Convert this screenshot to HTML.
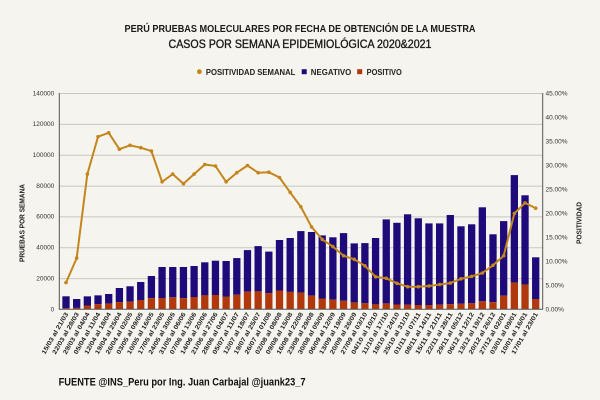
<!DOCTYPE html>
<html><head><meta charset="utf-8"><style>
html,body{margin:0;padding:0;background:#f5f4ee;}
svg{display:block;font-family:"Liberation Sans",sans-serif;}
.xl{font-size:6.3px;font-weight:bold;fill:#222;}
.yl{font-size:6.5px;fill:#333;}
</style></head><body>
<svg width="600" height="400" viewBox="0 0 600 400" xmlns="http://www.w3.org/2000/svg">
<rect width="600" height="400" fill="#f5f4ee"/>
<!-- titles -->
<text x="300" y="31.8" text-anchor="middle" font-size="10.5" font-weight="bold" fill="#1a1a1a" textLength="351" lengthAdjust="spacingAndGlyphs">PERÚ PRUEBAS MOLECULARES POR FECHA DE OBTENCIÓN DE LA MUESTRA</text>
<text x="300" y="48.2" text-anchor="middle" font-size="11.5" fill="#1a1a1a" stroke="#1a1a1a" stroke-width="0.35" textLength="263" lengthAdjust="spacingAndGlyphs">CASOS POR SEMANA EPIDEMIOLÓGICA 2020&amp;2021</text>
<!-- legend -->
<circle cx="199.4" cy="71.7" r="2.4" fill="#c4861c"/>
<text x="205.9" y="74.9" font-size="8.6" font-weight="bold" fill="#222" textLength="89.5" lengthAdjust="spacingAndGlyphs">POSITIVIDAD SEMANAL</text>
<rect x="301.7" y="69.2" width="5" height="5" fill="#1e0a78"/>
<text x="310.8" y="74.9" font-size="8.6" font-weight="bold" fill="#222" textLength="40.5" lengthAdjust="spacingAndGlyphs">NEGATIVO</text>
<rect x="357.2" y="69.2" width="5" height="5" fill="#b0380c"/>
<text x="366.6" y="74.9" font-size="8.6" font-weight="bold" fill="#222" textLength="35.2" lengthAdjust="spacingAndGlyphs">POSITIVO</text>
<!-- gridlines -->
<g stroke="#c8c8c2" stroke-width="1">
<line x1="59" y1="93.5" x2="543" y2="93.5"/>
<line x1="59" y1="124.4" x2="543" y2="124.4"/>
<line x1="59" y1="155.2" x2="543" y2="155.2"/>
<line x1="59" y1="186.1" x2="543" y2="186.1"/>
<line x1="59" y1="216.9" x2="543" y2="216.9"/>
<line x1="59" y1="247.8" x2="543" y2="247.8"/>
<line x1="59" y1="278.6" x2="543" y2="278.6"/>
</g>
<!-- left labels -->
<g class="yl" text-anchor="end">
<text x="54.3" y="95.3">140000</text>
<text x="54.3" y="126.2">120000</text>
<text x="54.3" y="157">100000</text>
<text x="54.3" y="187.9">80000</text>
<text x="54.3" y="218.7">60000</text>
<text x="54.3" y="249.6">40000</text>
<text x="54.3" y="280.4">20000</text>
<text x="54.3" y="311.3">0</text>
</g>
<!-- right labels -->
<g class="yl">
<text x="545.5" y="95.3">45.00%</text>
<text x="545.5" y="119.3">40.00%</text>
<text x="545.5" y="143.3">35.00%</text>
<text x="545.5" y="167.3">30.00%</text>
<text x="545.5" y="191.3">25.00%</text>
<text x="545.5" y="215.3">20.00%</text>
<text x="545.5" y="239.3">15.00%</text>
<text x="545.5" y="263.3">10.00%</text>
<text x="545.5" y="287.3">5.00%</text>
<text x="545.5" y="311.3">0.00%</text>
</g>
<!-- axis titles -->
<text transform="translate(24.7,223) rotate(-90)" text-anchor="middle" font-size="7.6" font-weight="bold" fill="#222" textLength="78" lengthAdjust="spacingAndGlyphs">PRUEBAS POR SEMANA</text>
<text transform="translate(581.7,223) rotate(-90)" text-anchor="middle" font-size="7.6" font-weight="bold" fill="#222" textLength="42" lengthAdjust="spacingAndGlyphs">POSITIVIDAD</text>
<!-- negative bars -->
<g fill="#1e0a78">
<rect x="62.35" y="296.3" width="7.3" height="12.0"/>
<rect x="73.03" y="299.0" width="7.3" height="8.9"/>
<rect x="83.70" y="296.35" width="7.3" height="9.15"/>
<rect x="94.38" y="295.35" width="7.3" height="8.85"/>
<rect x="105.05" y="294.0" width="7.3" height="9.6"/>
<rect x="115.73" y="288.0" width="7.3" height="14.1"/>
<rect x="126.40" y="286.3" width="7.3" height="15.3"/>
<rect x="137.08" y="282.0" width="7.3" height="18.0"/>
<rect x="147.75" y="276.0" width="7.3" height="22.2"/>
<rect x="158.43" y="267.0" width="7.3" height="31.0"/>
<rect x="169.10" y="267.0" width="7.3" height="30.3"/>
<rect x="179.78" y="267.0" width="7.3" height="31.2"/>
<rect x="190.45" y="266.0" width="7.3" height="31.0"/>
<rect x="201.13" y="262.3" width="7.3" height="33.1"/>
<rect x="211.80" y="260.7" width="7.3" height="34.3"/>
<rect x="222.48" y="261.0" width="7.3" height="35.5"/>
<rect x="233.15" y="258.1" width="7.3" height="36.7"/>
<rect x="243.83" y="250.1" width="7.3" height="41.6"/>
<rect x="254.50" y="246.1" width="7.3" height="45.3"/>
<rect x="265.18" y="251.6" width="7.3" height="41.5"/>
<rect x="275.85" y="240.0" width="7.3" height="50.5"/>
<rect x="286.53" y="238.0" width="7.3" height="53.9"/>
<rect x="297.20" y="231.1" width="7.3" height="61.5"/>
<rect x="307.88" y="232.0" width="7.3" height="63.7"/>
<rect x="318.55" y="235.4" width="7.3" height="63.1"/>
<rect x="329.23" y="237.3" width="7.3" height="62.4"/>
<rect x="339.90" y="233.1" width="7.3" height="67.7"/>
<rect x="350.58" y="243.4" width="7.3" height="59.0"/>
<rect x="361.25" y="243.1" width="7.3" height="60.2"/>
<rect x="371.93" y="238.0" width="7.3" height="66.4"/>
<rect x="382.60" y="219.4" width="7.3" height="84.0"/>
<rect x="393.28" y="222.8" width="7.3" height="81.7"/>
<rect x="403.95" y="214.3" width="7.3" height="90.5"/>
<rect x="414.63" y="218.3" width="7.3" height="86.7"/>
<rect x="425.30" y="223.4" width="7.3" height="81.6"/>
<rect x="435.98" y="223.4" width="7.3" height="81.3"/>
<rect x="446.65" y="215.0" width="7.3" height="89.2"/>
<rect x="457.33" y="226.3" width="7.3" height="77.5"/>
<rect x="468.00" y="224.3" width="7.3" height="79.0"/>
<rect x="478.68" y="207.3" width="7.3" height="94.0"/>
<rect x="489.35" y="234.3" width="7.3" height="67.9"/>
<rect x="500.03" y="221.1" width="7.3" height="74.6"/>
<rect x="510.70" y="175.1" width="7.3" height="107.5"/>
<rect x="521.38" y="195.3" width="7.3" height="89.3"/>
<rect x="532.05" y="257.3" width="7.3" height="41.7"/>
</g>
<!-- positive bars -->
<g fill="#b0380c">
<rect x="62.35" y="308.3" width="7.3" height="0.7"/>
<rect x="73.03" y="307.9" width="7.3" height="1.1"/>
<rect x="83.70" y="305.5" width="7.3" height="3.5"/>
<rect x="94.38" y="304.2" width="7.3" height="4.8"/>
<rect x="105.05" y="303.6" width="7.3" height="5.4"/>
<rect x="115.73" y="302.1" width="7.3" height="6.9"/>
<rect x="126.40" y="301.6" width="7.3" height="7.4"/>
<rect x="137.08" y="300.0" width="7.3" height="9.0"/>
<rect x="147.75" y="298.2" width="7.3" height="10.8"/>
<rect x="158.43" y="298.0" width="7.3" height="11.0"/>
<rect x="169.10" y="297.3" width="7.3" height="11.7"/>
<rect x="179.78" y="298.2" width="7.3" height="10.8"/>
<rect x="190.45" y="297.0" width="7.3" height="12.0"/>
<rect x="201.13" y="295.4" width="7.3" height="13.6"/>
<rect x="211.80" y="295.0" width="7.3" height="14.0"/>
<rect x="222.48" y="296.5" width="7.3" height="12.5"/>
<rect x="233.15" y="294.8" width="7.3" height="14.2"/>
<rect x="243.83" y="291.7" width="7.3" height="17.3"/>
<rect x="254.50" y="291.4" width="7.3" height="17.6"/>
<rect x="265.18" y="293.1" width="7.3" height="15.9"/>
<rect x="275.85" y="290.5" width="7.3" height="18.5"/>
<rect x="286.53" y="291.9" width="7.3" height="17.1"/>
<rect x="297.20" y="292.6" width="7.3" height="16.4"/>
<rect x="307.88" y="295.7" width="7.3" height="13.3"/>
<rect x="318.55" y="298.5" width="7.3" height="10.5"/>
<rect x="329.23" y="299.7" width="7.3" height="9.3"/>
<rect x="339.90" y="300.8" width="7.3" height="8.2"/>
<rect x="350.58" y="302.4" width="7.3" height="6.6"/>
<rect x="361.25" y="303.3" width="7.3" height="5.7"/>
<rect x="371.93" y="304.4" width="7.3" height="4.6"/>
<rect x="382.60" y="303.4" width="7.3" height="5.6"/>
<rect x="393.28" y="304.5" width="7.3" height="4.5"/>
<rect x="403.95" y="304.8" width="7.3" height="4.2"/>
<rect x="414.63" y="305.0" width="7.3" height="4.0"/>
<rect x="425.30" y="305.0" width="7.3" height="4.0"/>
<rect x="435.98" y="304.7" width="7.3" height="4.3"/>
<rect x="446.65" y="304.2" width="7.3" height="4.8"/>
<rect x="457.33" y="303.8" width="7.3" height="5.2"/>
<rect x="468.00" y="303.3" width="7.3" height="5.7"/>
<rect x="478.68" y="301.3" width="7.3" height="7.7"/>
<rect x="489.35" y="302.2" width="7.3" height="6.8"/>
<rect x="500.03" y="295.7" width="7.3" height="13.3"/>
<rect x="510.70" y="282.6" width="7.3" height="26.4"/>
<rect x="521.38" y="284.6" width="7.3" height="24.4"/>
<rect x="532.05" y="299.0" width="7.3" height="10.0"/>
</g>
<!-- axes -->
<g stroke="#555" stroke-width="1">
<line x1="59.3" y1="93" x2="59.3" y2="309.5"/>
<line x1="542.7" y1="93" x2="542.7" y2="309.5"/>
<line x1="59" y1="309.3" x2="543" y2="309.3"/>
</g>
<!-- positivity line -->
<polyline fill="none" stroke="#c4861c" stroke-width="2" stroke-linejoin="round" stroke-linecap="round" points="66,282.6 76.68,258.1 87.35,174.1 98.03,136.7 108.7,132.8 119.38,149.2 130.05,145.3 140.73,147.7 151.4,151.1 162.08,181.8 172.75,174.1 183.43,183.7 194.1,174.1 204.78,164.5 215.45,166 226.13,181.8 236.8,172.7 247.48,165.5 258.15,172.7 268.83,172.2 279.5,177.5 290.18,192.4 300.85,206.8 311.53,226.9 322.2,239.4 332.88,246.6 343.55,255.7 354.23,259.3 364.9,265.8 375.58,276.8 386.25,278.3 396.93,283.3 407.6,286.7 418.28,286.7 428.95,286.0 439.63,284.5 450.3,283.1 460.98,278.8 471.65,276.4 482.33,273.0 493.0,265.3 503.68,255.7 514.35,213.5 525.03,202.9 535.7,208.2"/>
<g fill="#c4861c">
<circle cx="66" cy="282.6" r="1.8"/><circle cx="76.68" cy="258.1" r="1.8"/><circle cx="87.35" cy="174.1" r="1.8"/><circle cx="98.03" cy="136.7" r="1.8"/><circle cx="108.7" cy="132.8" r="1.8"/><circle cx="119.38" cy="149.2" r="1.8"/><circle cx="130.05" cy="145.3" r="1.8"/><circle cx="140.73" cy="147.7" r="1.8"/><circle cx="151.4" cy="151.1" r="1.8"/><circle cx="162.08" cy="181.8" r="1.8"/><circle cx="172.75" cy="174.1" r="1.8"/><circle cx="183.43" cy="183.7" r="1.8"/><circle cx="194.1" cy="174.1" r="1.8"/><circle cx="204.78" cy="164.5" r="1.8"/><circle cx="215.45" cy="166" r="1.8"/><circle cx="226.13" cy="181.8" r="1.8"/><circle cx="236.8" cy="172.7" r="1.8"/><circle cx="247.48" cy="165.5" r="1.8"/><circle cx="258.15" cy="172.7" r="1.8"/><circle cx="268.83" cy="172.2" r="1.8"/><circle cx="279.5" cy="177.5" r="1.8"/><circle cx="290.18" cy="192.4" r="1.8"/><circle cx="300.85" cy="206.8" r="1.8"/><circle cx="311.53" cy="226.9" r="1.8"/><circle cx="322.2" cy="239.4" r="1.8"/><circle cx="332.88" cy="246.6" r="1.8"/><circle cx="343.55" cy="255.7" r="1.8"/><circle cx="354.23" cy="259.3" r="1.8"/><circle cx="364.9" cy="265.8" r="1.8"/><circle cx="375.58" cy="276.8" r="1.8"/><circle cx="386.25" cy="278.3" r="1.8"/><circle cx="396.93" cy="283.3" r="1.8"/><circle cx="407.6" cy="286.7" r="1.8"/><circle cx="418.28" cy="286.7" r="1.8"/><circle cx="428.95" cy="286.0" r="1.8"/><circle cx="439.63" cy="284.5" r="1.8"/><circle cx="450.3" cy="283.1" r="1.8"/><circle cx="460.98" cy="278.8" r="1.8"/><circle cx="471.65" cy="276.4" r="1.8"/><circle cx="482.33" cy="273.0" r="1.8"/><circle cx="493.0" cy="265.3" r="1.8"/><circle cx="503.68" cy="255.7" r="1.8"/><circle cx="514.35" cy="213.5" r="1.8"/><circle cx="525.03" cy="202.9" r="1.8"/><circle cx="535.7" cy="208.2" r="1.8"/>
</g>
<!-- x labels -->
<g class="xl" text-anchor="end">
<text transform="translate(68.5,314) rotate(-60)" textLength="47" lengthAdjust="spacingAndGlyphs">15/03 al 21/03</text>
<text transform="translate(79.18,314) rotate(-60)" textLength="47" lengthAdjust="spacingAndGlyphs">22/03 al 28/03</text>
<text transform="translate(89.85,314) rotate(-60)" textLength="47" lengthAdjust="spacingAndGlyphs">29/03 al 04/04</text>
<text transform="translate(100.53,314) rotate(-60)" textLength="47" lengthAdjust="spacingAndGlyphs">05/04 al 11/04</text>
<text transform="translate(111.2,314) rotate(-60)" textLength="47" lengthAdjust="spacingAndGlyphs">12/04 al 18/04</text>
<text transform="translate(121.88,314) rotate(-60)" textLength="47" lengthAdjust="spacingAndGlyphs">19/04 al 25/04</text>
<text transform="translate(132.55,314) rotate(-60)" textLength="47" lengthAdjust="spacingAndGlyphs">26/04 al 02/05</text>
<text transform="translate(143.23,314) rotate(-60)" textLength="47" lengthAdjust="spacingAndGlyphs">03/05 al 09/05</text>
<text transform="translate(153.9,314) rotate(-60)" textLength="47" lengthAdjust="spacingAndGlyphs">10/05 al 16/05</text>
<text transform="translate(164.58,314) rotate(-60)" textLength="47" lengthAdjust="spacingAndGlyphs">17/05 al 23/05</text>
<text transform="translate(175.25,314) rotate(-60)" textLength="47" lengthAdjust="spacingAndGlyphs">24/05 al 30/05</text>
<text transform="translate(185.93,314) rotate(-60)" textLength="47" lengthAdjust="spacingAndGlyphs">31/05 al 06/06</text>
<text transform="translate(196.6,314) rotate(-60)" textLength="47" lengthAdjust="spacingAndGlyphs">07/06 al 13/06</text>
<text transform="translate(207.28,314) rotate(-60)" textLength="47" lengthAdjust="spacingAndGlyphs">14/06 al 20/06</text>
<text transform="translate(217.95,314) rotate(-60)" textLength="47" lengthAdjust="spacingAndGlyphs">21/06 al 27/06</text>
<text transform="translate(228.63,314) rotate(-60)" textLength="47" lengthAdjust="spacingAndGlyphs">28/06 al 04/07</text>
<text transform="translate(239.3,314) rotate(-60)" textLength="47" lengthAdjust="spacingAndGlyphs">05/07 al 11/07</text>
<text transform="translate(249.98,314) rotate(-60)" textLength="47" lengthAdjust="spacingAndGlyphs">12/07 al 18/07</text>
<text transform="translate(260.65,314) rotate(-60)" textLength="47" lengthAdjust="spacingAndGlyphs">19/07 al 25/07</text>
<text transform="translate(271.33,314) rotate(-60)" textLength="47" lengthAdjust="spacingAndGlyphs">26/07 al 01/08</text>
<text transform="translate(282,314) rotate(-60)" textLength="47" lengthAdjust="spacingAndGlyphs">02/08 al 08/08</text>
<text transform="translate(292.68,314) rotate(-60)" textLength="47" lengthAdjust="spacingAndGlyphs">09/08 al 15/08</text>
<text transform="translate(303.35,314) rotate(-60)" textLength="47" lengthAdjust="spacingAndGlyphs">16/08 al 22/08</text>
<text transform="translate(314.03,314) rotate(-60)" textLength="47" lengthAdjust="spacingAndGlyphs">23/08 al 29/08</text>
<text transform="translate(324.7,314) rotate(-60)" textLength="47" lengthAdjust="spacingAndGlyphs">30/08 al 05/09</text>
<text transform="translate(335.38,314) rotate(-60)" textLength="47" lengthAdjust="spacingAndGlyphs">06/09 al 12/09</text>
<text transform="translate(346.05,314) rotate(-60)" textLength="47" lengthAdjust="spacingAndGlyphs">13/09 al 19/09</text>
<text transform="translate(356.73,314) rotate(-60)" textLength="47" lengthAdjust="spacingAndGlyphs">20/09 al 26/09</text>
<text transform="translate(367.4,314) rotate(-60)" textLength="47" lengthAdjust="spacingAndGlyphs">27/09 al 03/10</text>
<text transform="translate(378.08,314) rotate(-60)" textLength="47" lengthAdjust="spacingAndGlyphs">04/10 al 10/10</text>
<text transform="translate(388.75,314) rotate(-60)" textLength="47" lengthAdjust="spacingAndGlyphs">11/10 al 17/10</text>
<text transform="translate(399.43,314) rotate(-60)" textLength="47" lengthAdjust="spacingAndGlyphs">18/10 al 24/10</text>
<text transform="translate(410.1,314) rotate(-60)" textLength="47" lengthAdjust="spacingAndGlyphs">25/10 al 31/10</text>
<text transform="translate(420.78,314) rotate(-60)" textLength="47" lengthAdjust="spacingAndGlyphs">01/11 al 07/11</text>
<text transform="translate(431.45,314) rotate(-60)" textLength="47" lengthAdjust="spacingAndGlyphs">08/11 al 14/11</text>
<text transform="translate(442.13,314) rotate(-60)" textLength="47" lengthAdjust="spacingAndGlyphs">15/11 al 21/11</text>
<text transform="translate(452.8,314) rotate(-60)" textLength="47" lengthAdjust="spacingAndGlyphs">22/11 al 28/11</text>
<text transform="translate(463.48,314) rotate(-60)" textLength="47" lengthAdjust="spacingAndGlyphs">29/11 al 05/12</text>
<text transform="translate(474.15,314) rotate(-60)" textLength="47" lengthAdjust="spacingAndGlyphs">06/12 al 12/12</text>
<text transform="translate(484.83,314) rotate(-60)" textLength="47" lengthAdjust="spacingAndGlyphs">13/12 al 19/12</text>
<text transform="translate(495.5,314) rotate(-60)" textLength="47" lengthAdjust="spacingAndGlyphs">20/12 al 26/12</text>
<text transform="translate(506.18,314) rotate(-60)" textLength="47" lengthAdjust="spacingAndGlyphs">27/12 al 02/01</text>
<text transform="translate(516.85,314) rotate(-60)" textLength="47" lengthAdjust="spacingAndGlyphs">03/01 al 09/01</text>
<text transform="translate(527.53,314) rotate(-60)" textLength="47" lengthAdjust="spacingAndGlyphs">10/01 al 16/01</text>
<text transform="translate(538.2,314) rotate(-60)" textLength="47" lengthAdjust="spacingAndGlyphs">17/01 al 23/01</text>
</g>
<!-- footer -->
<text x="58.6" y="385.5" font-size="11.2" font-weight="bold" fill="#111" textLength="247" lengthAdjust="spacingAndGlyphs">FUENTE @INS_Peru por Ing. Juan Carbajal @juank23_7</text>
</svg>
</body></html>
